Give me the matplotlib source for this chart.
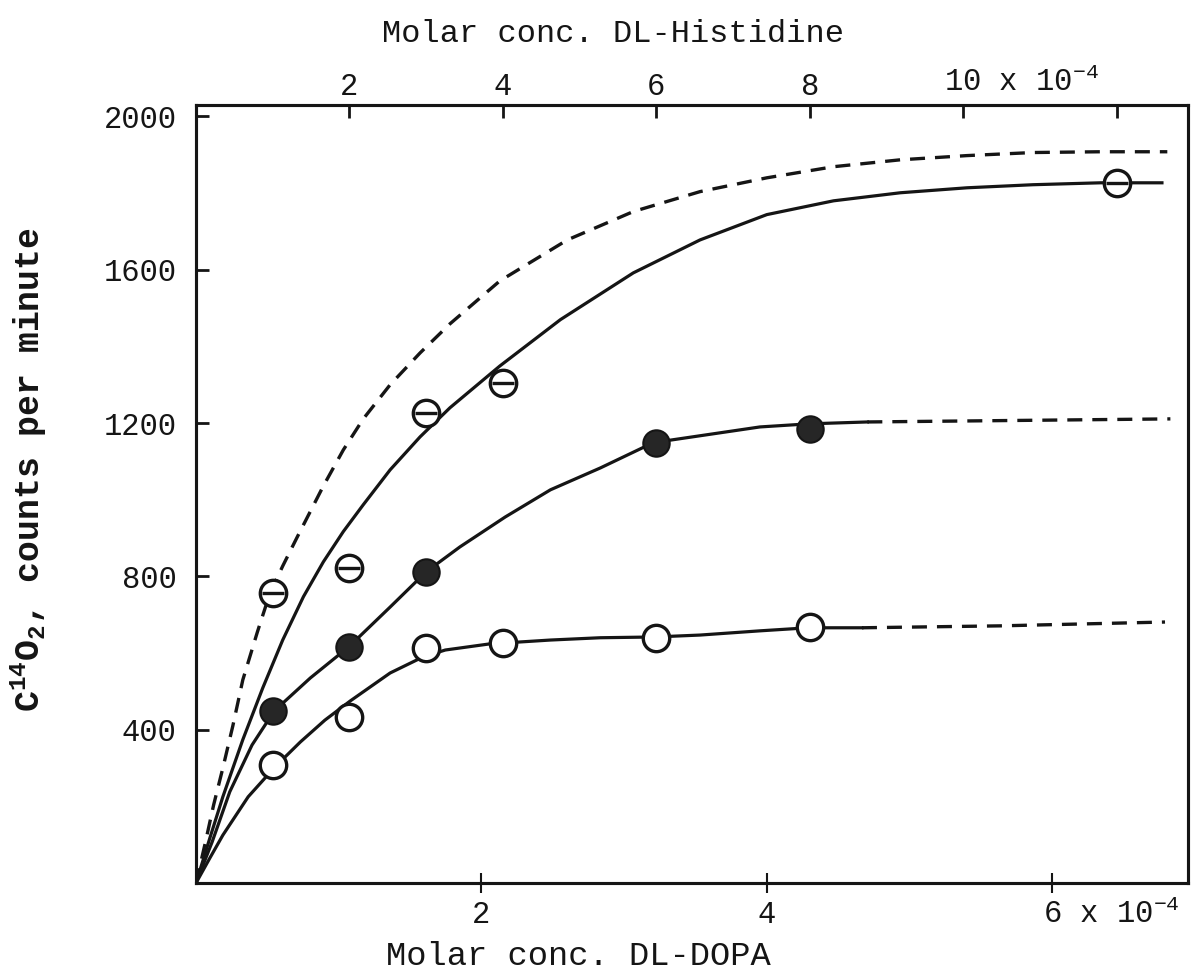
import numpy as np
import matplotlib
matplotlib.use('Agg')
import matplotlib.pyplot as plt

plt.rcParams['font.family'] = 'Liberation Mono'
plt.rcParams['mathtext.fontset'] = 'custom'
plt.rcParams['mathtext.rm'] = 'Liberation Mono'
plt.rcParams['mathtext.it'] = 'Liberation Mono'
plt.rcParams['mathtext.bf'] = 'Liberation Mono:bold'

# measured points, x = molar conc. DL-histidine (x 10^-4), y = C14O2 counts/min
his_open = [1, 2, 3, 4, 6, 8]
cpm_open = [308, 432, 613, 626, 640, 668]
his_filled = [1, 2, 3, 6, 8]
cpm_filled = [449, 616, 812, 1148, 1185]
his_theta = [1, 2, 3, 4, 12]
cpm_theta = [757, 822, 1227, 1305, 1827]

# hand drawn curves
top_dash_x = [0, 0.12, 0.23, 0.35, 0.48, 0.61, 0.80, 0.96, 1.13, 1.32, 1.66, 1.92, 2.18,
              2.53, 2.92, 3.31, 3.96, 4.84, 5.70, 6.57, 7.44, 8.31, 9.18, 10.05,
              10.91, 11.79, 12.66]
top_dash_y = [0, 104, 204, 300, 410, 530, 655, 754, 827, 903, 1036, 1130, 1211,
              1300, 1383, 1459, 1571, 1678, 1752, 1804, 1840, 1869, 1887, 1898,
              1906, 1908, 1908]

theta_x = [0, 0.18, 0.35, 0.61, 0.87, 1.13, 1.40, 1.66, 1.92, 2.18, 2.53, 2.92, 3.31,
           3.96, 4.75, 5.70, 6.57, 7.44, 8.31, 9.18, 10.05, 10.91, 11.79, 12.59]
theta_y = [0, 117, 225, 374, 509, 634, 747, 838, 917, 987, 1078, 1164, 1240,
           1349, 1470, 1592, 1678, 1744, 1780, 1801, 1814, 1822, 1827, 1827]

filled_x = [0, 0.21, 0.44, 0.73, 1.02, 1.49, 1.99, 2.53, 3.00, 3.44, 4.03, 4.62,
            5.27, 5.96, 6.57, 7.35, 7.98, 8.75]
filled_y = [0, 107, 238, 360, 449, 535, 616, 720, 812, 877, 955, 1026,
            1083, 1149, 1167, 1190, 1198, 1203]
filled_ext_x = [8.75, 12.70]
filled_ext_y = [1203, 1211]

open_x = [0, 0.18, 0.35, 0.68, 1.03, 1.36, 1.68, 2.01, 2.53, 2.96, 3.25, 3.83,
          4.62, 5.27, 5.98, 6.57, 7.35, 7.98, 8.68]
open_y = [0, 65, 125, 225, 303, 368, 425, 475, 548, 590, 608, 624,
          634, 640, 642, 647, 658, 666, 666]
open_ext_x = [8.68, 10.48, 12.63]
open_ext_y = [666, 671, 681]

k = '#151515'
dash = (0, (4.5, 3))

fig = plt.figure(figsize=(12.01, 9.74), dpi=100)
ax = fig.add_axes([0.1632, 0.0934, 0.826, 0.7988])
ax.set_xlim(0, 6.95)
ax.set_ylim(0, 2030)
ax2 = ax.twiny()
ax2.set_xlim(0, 12.93)

for a in (ax, ax2):
    for s in a.spines.values():
        s.set_linewidth(2.2)
        s.set_color(k)

ax2.plot(top_dash_x, top_dash_y, color=k, lw=2.4, ls=dash)
ax2.plot(theta_x, theta_y, color=k, lw=2.3)
ax2.plot(filled_x, filled_y, color=k, lw=2.3)
ax2.plot(filled_ext_x, filled_ext_y, color=k, lw=2.4, ls=dash)
ax2.plot(open_x, open_y, color=k, lw=2.3)
ax2.plot(open_ext_x, open_ext_y, color=k, lw=2.4, ls=dash)

ms = 19
ax2.plot(his_open, cpm_open, 'o', ms=ms, mfc='white', mec=k, mew=2.4, zorder=4)
ax2.plot(his_filled, cpm_filled, 'o', ms=ms, mfc='#262626', mec=k, mew=1.5, zorder=4)
ax2.plot(his_theta, cpm_theta, 'o', ms=ms, mfc='white', mec=k, mew=2.4, zorder=4)
ax2.plot(his_theta, cpm_theta, '_', ms=ms - 3, mec=k, mew=2.4, zorder=5)

ax.set_yticks([400, 800, 1200, 1600, 2000])
ax.set_xticks([2, 4, 6])
ax.set_xticklabels(['2', '4', ''])
ax.tick_params(axis='y', direction='in', length=9, width=2, labelsize=22, pad=14, colors=k)
ax.tick_params(axis='x', direction='inout', length=14, width=1.5, labelsize=22, pad=5, colors=k)
ax2.set_xticks([2, 4, 6, 8, 10, 12])
ax2.set_xticklabels(['2', '4', '6', '8', '', ''])
ax2.tick_params(axis='x', direction='in', length=9, width=2, labelsize=22, pad=2, colors=k)

ax.annotate('6 x 10$^{-4}$', xy=(6, 0), xycoords=('data', 'axes fraction'),
            xytext=(-7, -12), textcoords='offset points', ha='left', va='top',
            fontsize=22, color=k)
ax2.annotate('10 x 10$^{-4}$', xy=(10, 1), xycoords=('data', 'axes fraction'),
             xytext=(-14, 5), textcoords='offset points', ha='left', va='bottom',
             fontsize=22, color=k)

ax.set_xlabel('Molar conc. DL-DOPA', fontsize=24.3, color=k)
ax.xaxis.set_label_coords(0.385, -0.075)
ax2.set_xlabel('Molar conc. DL-Histidine', fontsize=23, color=k)
ax2.xaxis.set_label_coords(0.42, 1.081)
ax.set_ylabel(r'$\mathbf{C^{14}O_2}$, counts per minute', fontsize=25,
              fontweight='bold', color=k, va='center')
ax.yaxis.set_label_coords(-0.169, 0.531)

fig.savefig('out.png', dpi=100, facecolor='white')
